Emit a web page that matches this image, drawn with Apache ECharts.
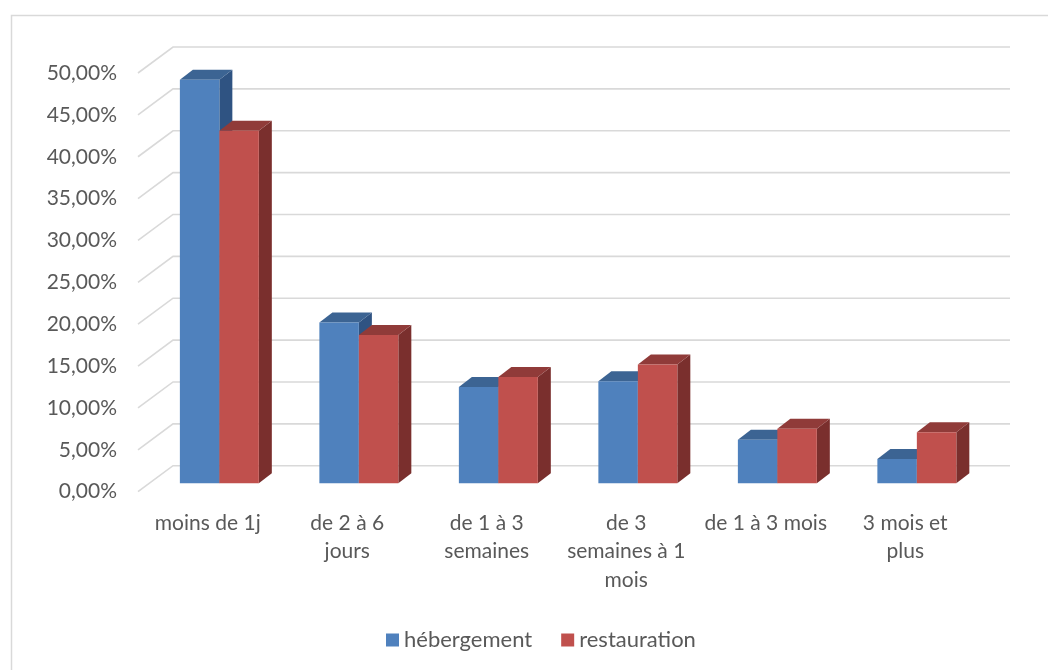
<!DOCTYPE html>
<html>
<head>
<meta charset="utf-8">
<script src="https://cdn.jsdelivr.net/npm/echarts@6/dist/echarts.min.js"></script>
<style>
html,body{margin:0;padding:0;background:#fff;}
#c{width:1048px;height:670px;}
</style>
</head>
<body>
<div id="c"></div>
<script>
const categories = ['moins de 1j', 'de 2 à 6\njours', 'de 1 à 3\nsemaines', 'de 3\nsemaines à 1\nmois', 'de 1 à 3 mois', '3 mois et\nplus'];
const hebergement = [48.2, 19.2, 11.5, 12.2, 5.2, 2.9];
const restauration = [42.1, 17.7, 12.7, 14.2, 6.5, 6.1];
const yTicks = [0, 5, 10, 15, 20, 25, 30, 35, 40, 45, 50];
const seriesNames = ['hébergement', 'restauration'];

const FONT = 'Lato';
const TXT = '#595959';
const WALL_DX = 35, WALL_DY = -26;
const FRONT_DX = 11.6, FRONT_DY = -8.4;
const DEPTH_DX = 13, DEPTH_DY = -10;
const BAR_FRAC = 0.283;
const colors = [
  {front: '#4F81BD', top: '#3C6493', side: '#2F5382'},
  {front: '#C0504D', top: '#903B39', side: '#7A2F2D'}
];

function barRenderer(idx) {
  return function (params, api) {
    const cat = api.value(0), v = api.value(1);
    const base = api.coord([cat, 0]);
    const top = api.coord([cat, v]);
    const band = api.size([1, 0])[0];
    const w = band * BAR_FRAC;
    const x0 = base[0] + (idx === 0 ? -w : 0) + FRONT_DX;
    const x1 = x0 + w;
    const yb = base[1] + FRONT_DY;
    const yt = top[1] + FRONT_DY;
    const c = colors[idx];
    return {
      type: 'group',
      children: [
        {type: 'polygon', shape: {points: [[x1, yt], [x1 + DEPTH_DX, yt + DEPTH_DY], [x1 + DEPTH_DX, yb + DEPTH_DY], [x1, yb]]}, style: {fill: c.side}},
        {type: 'polygon', shape: {points: [[x0, yt], [x1, yt], [x1 + DEPTH_DX, yt + DEPTH_DY], [x0 + DEPTH_DX, yt + DEPTH_DY]]}, style: {fill: c.top}},
        {type: 'rect', shape: {x: x0, y: yt, width: w, height: yb - yt}, style: {fill: c.front}}
      ]
    };
  };
}

function gridRenderer(params, api) {
  const v = api.value(1);
  const p = api.coord([0, v]);
  const cs = params.coordSys;
  const x = cs.x, y = p[1];
  return {
    type: 'polyline',
    shape: {points: [[x, y], [x + WALL_DX, y + WALL_DY], [x + cs.width + WALL_DX, y + WALL_DY]]},
    style: {stroke: '#D9D9D9', lineWidth: 1.6, fill: 'none'}
  };
}

const chart = echarts.init(document.getElementById('c'), null, {renderer: 'canvas'});
chart.setOption({
  animation: false,
  backgroundColor: '#fff',
  graphic: [{
    type: 'rect', left: 9, top: 13, z: -10,
    shape: {x: 0, y: 0, width: 1100, height: 700},
    style: {fill: 'none', stroke: '#D9D9D9', lineWidth: 1.5}
  }],
  grid: {left: 138, right: 73, top: 73, bottom: 178.3},
  legend: {
    data: seriesNames,
    left: 381, top: 624,
    icon: 'rect', itemWidth: 13, itemHeight: 13, itemGap: 29,
    textStyle: {fontFamily: FONT, fontSize: 22, color: TXT}
  },
  xAxis: {
    type: 'category', data: categories,
    axisLine: {show: false}, axisTick: {show: false}, splitLine: {show: false},
    axisLabel: {interval: 0, margin: 17, fontFamily: FONT, fontSize: 21, lineHeight: 28.5, color: TXT, align: 'center'}
  },
  yAxis: {
    type: 'value', min: 0, max: 50, interval: 5,
    axisLine: {show: false}, axisTick: {show: false}, splitLine: {show: false},
    axisLabel: {margin: 21, fontFamily: FONT, fontSize: 21, color: TXT,
      formatter: v => v.toFixed(2).replace('.', ',') + '%'}
  },
  series: [
    {type: 'custom', silent: true, renderItem: gridRenderer, data: yTicks.map(v => [0, v]), encode: {x: 0, y: 1}, z: 1},
    {type: 'custom', name: seriesNames[0], renderItem: barRenderer(0), itemStyle: {color: colors[0].front},
      data: hebergement.map((v, i) => [i, v]), encode: {x: 0, y: 1}, z: 2},
    {type: 'custom', name: seriesNames[1], renderItem: barRenderer(1), itemStyle: {color: colors[1].front},
      data: restauration.map((v, i) => [i, v]), encode: {x: 0, y: 1}, z: 3}
  ]
});
</script>
</body>
</html>
